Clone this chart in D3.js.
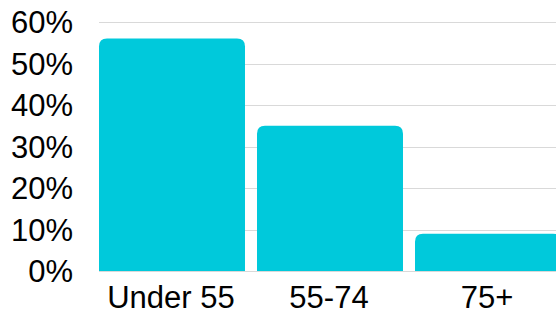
<!DOCTYPE html>
<html lang="en">
<head>
<meta charset="utf-8">
<title>Age groups</title>
<style>
body { margin: 0; background: #fff; }
svg text { font-family: Arial, "Liberation Sans", sans-serif; fill: #000; }
.grid line { stroke: #d9d9d9; stroke-width: 1; shape-rendering: crispEdges; }
.grid path { display: none; }
</style>
<script src="https://d3js.org/d3.v7.min.js"></script>
</head>
<body>
<div id="chart"></div>
<script>
var categories = ['Under 55', '55-74', '75+'];
var shares = [56, 35, 9];
var ticks = [0, 10, 20, 30, 40, 50, 60];

var width = 556, height = 313;
var left = 99, top0 = 22, base = 271;

var svg = d3.select('#chart').append('svg')
  .attr('width', width)
  .attr('height', height);

var x = d3.scaleBand()
  .domain(categories)
  .range([left, 561])
  .paddingInner(0.076)
  .paddingOuter(0);

var y = d3.scaleLinear()
  .domain([0, 60])
  .range([base, top0]);

// gridlines
svg.append('g')
  .attr('class', 'grid')
  .attr('transform', 'translate(' + left + ',0)')
  .call(d3.axisLeft(y).tickValues(ticks).tickSize(-(width - left)).tickFormat(''));

// y tick labels
svg.selectAll('.ylab')
  .data(ticks)
  .enter().append('text')
  .attr('class', 'ylab')
  .attr('x', 73)
  .attr('y', function(d) { return y(d); })
  .attr('dy', '0.36em')
  .attr('text-anchor', 'end')
  .style('font-size', '31px')
  .text(function(d) { return d + '%'; });

// bars with rounded top corners
var r = 8;
svg.selectAll('.bar')
  .data(shares)
  .enter().append('path')
  .attr('class', 'bar')
  .attr('fill', '#00c9db')
  .attr('d', function(d, i) {
    var x0 = x(categories[i]), x1 = x0 + x.bandwidth();
    var yt = y(d), yb = y(0);
    return 'M' + x0 + ',' + yb +
      'V' + (yt + r) +
      'Q' + x0 + ',' + yt + ' ' + (x0 + r) + ',' + yt +
      'H' + (x1 - r) +
      'Q' + x1 + ',' + yt + ' ' + x1 + ',' + (yt + r) +
      'V' + yb + 'Z';
  });

// baseline
svg.append('line')
  .attr('x1', left).attr('x2', width)
  .attr('y1', base + 0.5).attr('y2', base + 0.5)
  .attr('stroke', '#d9d9d9');

// category labels
svg.selectAll('.xlab')
  .data(categories)
  .enter().append('text')
  .attr('class', 'xlab')
  .attr('x', function(d) { return x(d) + x.bandwidth() / 2 - 1; })
  .attr('y', 308)
  .attr('text-anchor', 'middle')
  .style('font-size', '31px')
  .text(function(d) { return d; });
</script>
</body>
</html>
